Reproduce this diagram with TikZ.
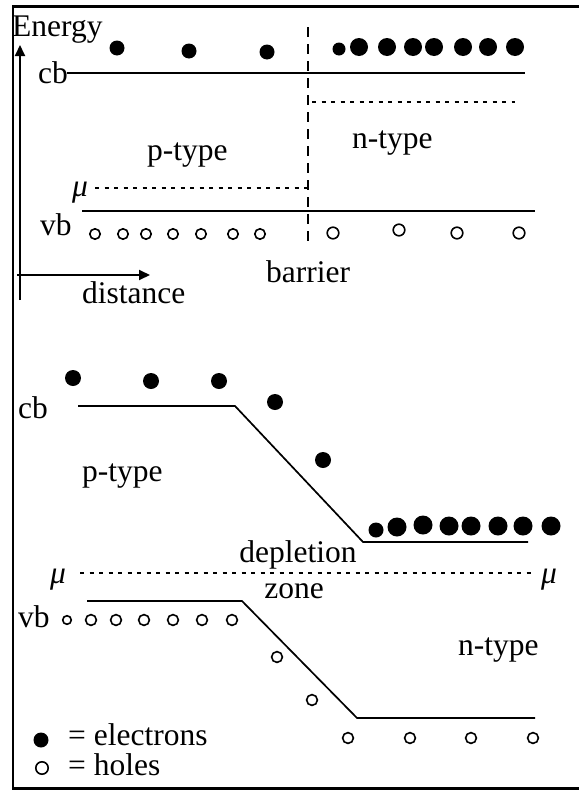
\documentclass[tikz,border=0pt]{standalone}
\usepackage{fontspec}
\setmainfont{Liberation Serif}
\usetikzlibrary{arrows.meta}
\tikzset{
  lbl/.style={inner sep=0pt, anchor=base west, font=\fontsize{31.5}{37}\selectfont},
  band/.style={line width=1.7pt},
  fermi/.style={line width=1.7pt, dash pattern=on 4pt off 5.5pt},
  barrierline/.style={line width=2pt, dash pattern=on 10pt off 7pt},
  axis/.style={line width=2pt, -{Triangle[length=11pt,width=10pt]}},
  frame/.style={line width=2.6pt},
  elec/.style={fill=black},
  hole/.style={draw=black, line width=1.6pt}
}
\begin{document}
\begin{tikzpicture}[x=1pt,y=-1pt]
\useasboundingbox (0,0) rectangle (579,790);
% frame
\draw[frame] (579,6.5) -- (13,6.5) -- (13,788.5) -- (579,788.5);

% ---------- top panel ----------
\coordinate (ax0) at (20,300);
\coordinate (axy) at (20,45);
\coordinate (axx0) at (17,275);
\coordinate (axx) at (150,275);
\draw[axis] (ax0) -- (axy);
\draw[axis] (axx0) -- (axx);
\node[lbl] (energy) at (12,36) {Energy};
\node[lbl] (distance) at (82,303) {distance};

\node[lbl] (cbtop) at (38,83) {cb};
\node[lbl] (vbtop) at (40,235) {vb};
\node[lbl] (ptop) at (147,160) {p-type};
\node[lbl] (ntop) at (352,148) {n-type};
\node[lbl] (barrier) at (266,282) {barrier};
\node[lbl] (mutop) at (72,196) {\itshape μ};

\coordinate (cb1) at (67,73);
\coordinate (cb2) at (525,73);
\draw[band] (cb1) -- (cb2);
\coordinate (vb1) at (82,211);
\coordinate (vb2) at (535,211);
\draw[band] (vb1) -- (vb2);
\coordinate (b1) at (308,27);
\coordinate (b2) at (308,245);
\draw[barrierline] (b1) -- (b2);
\coordinate (fn1) at (312,102);
\coordinate (fn2) at (515,102);
\draw[fermi] (fn1) -- (fn2);
\coordinate (fp1) at (95,188);
\coordinate (fp2) at (308,188);
\draw[fermi] (fp1) -- (fp2);

% electrons top
\foreach \x/\y/\r in {117/48/7.5, 189/51/7.5, 267/52/7.5,
  339/49/6.5, 359/47/9, 387/47/9, 413/47/9, 434/47/9, 463/47/9, 488/47/9, 515/47/9}
  \fill[elec] (\x,\y) circle[radius=\r];
% holes top
\foreach \x/\y in {95/234, 123/234, 146/234, 173/234, 201/234, 233/234, 260/234}
  \draw[hole] (\x,\y) circle[radius=5.2];
\foreach \x/\y in {333/233, 399/230, 457/233, 519/233}
  \draw[hole] (\x,\y) circle[radius=5.8];

% ---------- bottom panel ----------
\node[lbl] (cbbot) at (18,418) {cb};
\node[lbl] (vbbot) at (18,627) {vb};
\node[lbl] (pbot) at (82,481) {p-type};
\node[lbl] (nbot) at (458,655) {n-type};
\node[lbl, anchor=base] (depl) at (298,562) {depletion};
\node[lbl, anchor=base] (zone) at (294,598) {zone};
\node[lbl] (mul) at (50,583) {\itshape μ};
\node[lbl] (mur) at (541,583) {\itshape μ};

\coordinate (c1) at (78,406);
\coordinate (c2) at (235,406);
\coordinate (c3) at (363,542);
\coordinate (c4) at (528,542);
\draw[band] (c1) -- (c2) -- (c3) -- (c4);
\coordinate (m1) at (80,573);
\coordinate (m2) at (535,573);
\draw[fermi] (m1) -- (m2);
\coordinate (v1) at (87,601);
\coordinate (v2) at (242,601);
\coordinate (v3) at (357,718);
\coordinate (v4) at (535,718);
\draw[band] (v1) -- (v2) -- (v3) -- (v4);

% electrons bottom
\foreach \x/\y/\r in {73/378/8, 151/381/8, 219/381/8, 275/402/8, 323/460/8,
  376/530/7.5, 397/527/9.5, 423/525/9.5, 449/526/9.5, 471/526/9.5, 498/526/9.5, 523/526/9.5, 551/526/9.5}
  \fill[elec] (\x,\y) circle[radius=\r];
% holes bottom
\draw[hole] (67,620) circle[radius=4.3];
\foreach \x/\y in {91/620, 116/620, 144/620, 173/620, 202/620, 232/620,
  277/657, 312/700, 348/738, 410/738, 471/738, 533/738}
  \draw[hole] (\x,\y) circle[radius=5.4];

% legend
\fill[elec] (41,740) circle[radius=7.5];
\draw[hole] (42,768) circle[radius=6.2];
\node[lbl] (legel) at (68,745) {= electrons};
\node[lbl] (leghole) at (68,775) {= holes};
\end{tikzpicture}
\end{document}
